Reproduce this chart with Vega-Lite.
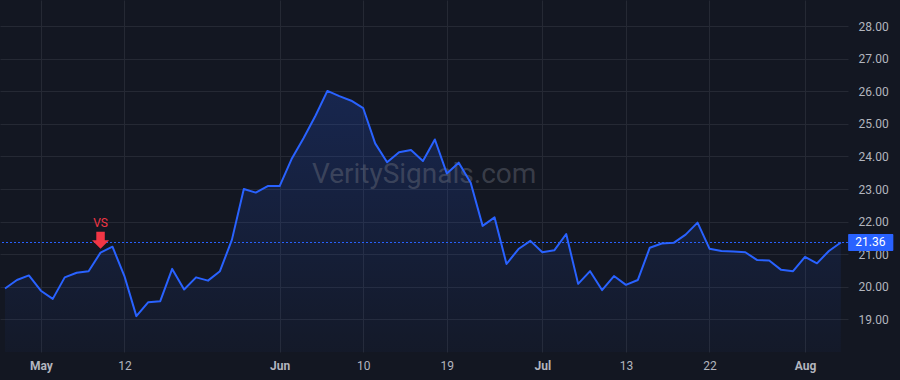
{
  "$schema": "https://vega.github.io/schema/vega-lite/v6.json",
  "width": 848,
  "height": 352,
  "autosize": {"type": "none"},
  "padding": {"left": 0, "top": 0, "right": 52, "bottom": 28},
  "background": "#131722",
  "config": {"view": {"stroke": null}, "font": "Roboto", "axis": {"labelOverlap": false}},
  "data": {
    "values": [
      {"i": 0, "date": "2020-04-28", "close": 19.95},
      {"i": 1, "date": "2020-04-29", "close": 20.21},
      {"i": 2, "date": "2020-04-30", "close": 20.35},
      {"i": 3, "date": "2020-05-01", "close": 19.88},
      {"i": 4, "date": "2020-05-04", "close": 19.63},
      {"i": 5, "date": "2020-05-05", "close": 20.29},
      {"i": 6, "date": "2020-05-06", "close": 20.43},
      {"i": 7, "date": "2020-05-07", "close": 20.48},
      {"i": 8, "date": "2020-05-08", "close": 21.05, "signal": "VS"},
      {"i": 9, "date": "2020-05-11", "close": 21.23},
      {"i": 10, "date": "2020-05-12", "close": 20.33},
      {"i": 11, "date": "2020-05-13", "close": 19.10},
      {"i": 12, "date": "2020-05-14", "close": 19.53},
      {"i": 13, "date": "2020-05-15", "close": 19.56},
      {"i": 14, "date": "2020-05-18", "close": 20.55},
      {"i": 15, "date": "2020-05-19", "close": 19.92},
      {"i": 16, "date": "2020-05-20", "close": 20.29},
      {"i": 17, "date": "2020-05-21", "close": 20.19},
      {"i": 18, "date": "2020-05-22", "close": 20.48},
      {"i": 19, "date": "2020-05-26", "close": 21.44},
      {"i": 20, "date": "2020-05-27", "close": 23.00},
      {"i": 21, "date": "2020-05-28", "close": 22.89},
      {"i": 22, "date": "2020-05-29", "close": 23.09},
      {"i": 23, "date": "2020-06-01", "close": 23.09},
      {"i": 24, "date": "2020-06-02", "close": 23.92},
      {"i": 25, "date": "2020-06-03", "close": 24.56},
      {"i": 26, "date": "2020-06-04", "close": 25.25},
      {"i": 27, "date": "2020-06-05", "close": 26.01},
      {"i": 28, "date": "2020-06-08", "close": 25.85},
      {"i": 29, "date": "2020-06-09", "close": 25.71},
      {"i": 30, "date": "2020-06-10", "close": 25.48},
      {"i": 31, "date": "2020-06-11", "close": 24.40},
      {"i": 32, "date": "2020-06-12", "close": 23.82},
      {"i": 33, "date": "2020-06-15", "close": 24.13},
      {"i": 34, "date": "2020-06-16", "close": 24.20},
      {"i": 35, "date": "2020-06-17", "close": 23.86},
      {"i": 36, "date": "2020-06-18", "close": 24.52},
      {"i": 37, "date": "2020-06-19", "close": 23.48},
      {"i": 38, "date": "2020-06-22", "close": 23.81},
      {"i": 39, "date": "2020-06-23", "close": 23.19},
      {"i": 40, "date": "2020-06-24", "close": 21.87},
      {"i": 41, "date": "2020-06-25", "close": 22.13},
      {"i": 42, "date": "2020-06-26", "close": 20.70},
      {"i": 43, "date": "2020-06-29", "close": 21.16},
      {"i": 44, "date": "2020-06-30", "close": 21.41},
      {"i": 45, "date": "2020-07-01", "close": 21.06},
      {"i": 46, "date": "2020-07-02", "close": 21.12},
      {"i": 47, "date": "2020-07-06", "close": 21.62},
      {"i": 48, "date": "2020-07-07", "close": 20.09},
      {"i": 49, "date": "2020-07-08", "close": 20.48},
      {"i": 50, "date": "2020-07-09", "close": 19.90},
      {"i": 51, "date": "2020-07-10", "close": 20.33},
      {"i": 52, "date": "2020-07-13", "close": 20.06},
      {"i": 53, "date": "2020-07-14", "close": 20.21},
      {"i": 54, "date": "2020-07-15", "close": 21.20},
      {"i": 55, "date": "2020-07-16", "close": 21.33},
      {"i": 56, "date": "2020-07-17", "close": 21.35},
      {"i": 57, "date": "2020-07-20", "close": 21.60},
      {"i": 58, "date": "2020-07-21", "close": 21.97},
      {"i": 59, "date": "2020-07-22", "close": 21.17},
      {"i": 60, "date": "2020-07-23", "close": 21.10},
      {"i": 61, "date": "2020-07-24", "close": 21.08},
      {"i": 62, "date": "2020-07-27", "close": 21.06},
      {"i": 63, "date": "2020-07-28", "close": 20.82},
      {"i": 64, "date": "2020-07-29", "close": 20.81},
      {"i": 65, "date": "2020-07-30", "close": 20.52},
      {"i": 66, "date": "2020-07-31", "close": 20.48},
      {"i": 67, "date": "2020-08-03", "close": 20.92},
      {"i": 68, "date": "2020-08-04", "close": 20.72},
      {"i": 69, "date": "2020-08-05", "close": 21.10},
      {"i": 70, "date": "2020-08-06", "close": 21.36}
    ]
  },
  "layer": [
    {
      "mark": {
        "type": "area",
        "clip": true,
        "color": {
          "gradient": "linear", "x1": 0, "y1": 0, "x2": 0, "y2": 1,
          "stops": [
            {"offset": 0, "color": "rgba(41,98,255,0.2)"},
            {"offset": 1, "color": "rgba(41,98,255,0.03)"}
          ]
        }
      },
      "encoding": {
        "x": {
          "field": "i", "type": "quantitative",
          "scale": {"domain": [-0.42, 70.6], "nice": false, "zero": false},
          "axis": {
            "title": null, "orient": "bottom",
            "values": [3, 10, 23, 30, 37, 45, 52, 59, 67],
            "tickCount": 50,
            "labelExpr": "({'3':'May','10':'12','23':'Jun','30':'10','37':'19','45':'Jul','52':'13','59':'22','67':'Aug'})[datum.value]",
            "labelFontWeight": {"condition": {"test": "indexof([3,23,45,67], datum.value) >= 0", "value": "bold"}, "value": "normal"},
            "labelColor": "#b2b5be", "labelFontSize": 12, "labelPadding": 8, "labelFlush": false, "labelOverlap": false,
            "ticks": false, "domain": false, "grid": true, "gridColor": "#252934", "gridWidth": 1
          }
        },
        "y": {
          "field": "close", "type": "quantitative",
          "scale": {"domain": [18, 28.8], "nice": false, "zero": false},
          "axis": {
            "title": null, "orient": "right",
            "values": [19, 20, 21, 22, 23, 24, 25, 26, 27, 28],
            "tickCount": 50,
            "format": ".2f",
            "labelColor": "#b2b5be", "labelFontSize": 12, "labelPadding": 10, "labelAlign": "left", "labelBaseline": "middle",
            "labelOverlap": false, "labelFlush": false,
            "ticks": false, "domain": false, "grid": true, "gridColor": "#252934", "gridWidth": 1
          }
        },
        "y2": {"datum": 18}
      }
    },
    {
      "data": {"values": [{"watermark": "VeritySignals.com"}]},
      "mark": {"type": "text", "fontSize": 28, "align": "center", "baseline": "alphabetic", "color": "rgba(120,123,134,0.4)"},
      "encoding": {
        "x": {"datum": 35.1, "type": "quantitative"},
        "y": {"datum": 23.18, "type": "quantitative"},
        "text": {"field": "watermark"}
      }
    },
    {
      "mark": {"type": "line", "color": "#2962ff", "strokeWidth": 2, "strokeJoin": "round"},
      "encoding": {
        "x": {"field": "i", "type": "quantitative"},
        "y": {"field": "close", "type": "quantitative"}
      }
    },
    {
      "transform": [{"filter": "datum.i == 70"}],
      "mark": {"type": "rule", "color": "#2962ff", "strokeWidth": 1, "strokeDash": [2, 2]},
      "encoding": {
        "y": {"field": "close", "type": "quantitative"}
      }
    },
    {
      "transform": [{"filter": "datum.i == 70"}],
      "mark": {"type": "rect", "color": "#2962ff", "xOffset": 7.3, "x2Offset": 52.5, "yOffset": -8.5, "y2Offset": 8.5, "cornerRadius": 1},
      "encoding": {
        "x": {"field": "i", "type": "quantitative"},
        "x2": {"field": "i"},
        "y": {"field": "close", "type": "quantitative"},
        "y2": {"field": "close"}
      }
    },
    {
      "transform": [{"filter": "datum.i == 70"}],
      "mark": {"type": "text", "color": "#ffffff", "fontSize": 12, "align": "center", "baseline": "middle", "dx": 29.5},
      "encoding": {
        "x": {"field": "i", "type": "quantitative"},
        "y": {"field": "close", "type": "quantitative"},
        "text": {"field": "close", "format": ".2f"}
      }
    },
    {
      "transform": [{"filter": "datum.signal == 'VS'"}],
      "mark": {"type": "point", "filled": true, "opacity": 1, "color": "#f23645", "size": 289, "yOffset": -12.4,
        "shape": "M-0.5,-1L0.5,-1L0.5,0L1,0L0,1L-1,0L-0.5,0Z"},
      "encoding": {
        "x": {"field": "i", "type": "quantitative"},
        "y": {"field": "close", "type": "quantitative"}
      }
    },
    {
      "transform": [{"filter": "datum.signal == 'VS'"}],
      "mark": {"type": "text", "color": "#f23645", "fontSize": 12, "align": "center", "baseline": "middle", "yOffset": -30},
      "encoding": {
        "x": {"field": "i", "type": "quantitative"},
        "y": {"field": "close", "type": "quantitative"},
        "text": {"field": "signal"}
      }
    }
  ]
}
